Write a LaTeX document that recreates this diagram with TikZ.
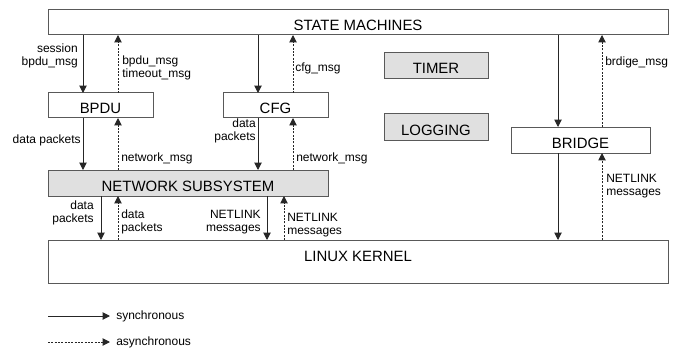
\documentclass[tikz,border=0pt]{standalone}
\usepackage{fontspec}
\setmainfont{Liberation Sans}
\usetikzlibrary{arrows.meta,calc}
\begin{document}
\begin{tikzpicture}[x=0.75pt,y=-0.75pt,
  box/.style={draw=black!65,line width=0.75pt,inner sep=0pt,outer sep=0pt,
    font=\fontsize{11.2}{13}\selectfont,text height=12pt,text depth=0pt},
  grey/.style={fill=black!12},
  lbl/.style={inner sep=0pt,font=\fontsize{9}{9.75}\selectfont},
  sync/.style={draw=black!85,line width=0.75pt,-{Triangle[length=5.6pt,width=5.6pt]}},
  async/.style={sync,dash pattern=on 1.5pt off 1pt}]
\useasboundingbox (0,0) rectangle (680,349);
% boxes
\node[box,minimum width=465pt,minimum height=18.75pt] (sm) at (358,22.5) {STATE MACHINES};
\node[box,minimum width=78.75pt,minimum height=18.75pt] (bpdu) at (100.5,105.5) {BPDU};
\node[box,minimum width=78.75pt,minimum height=18.75pt] (cfg) at (275.5,105.5) {CFG};
\node[box,grey,minimum width=78pt,minimum height=19.5pt] (timer) at (436,66) {TIMER};
\node[box,grey,minimum width=78pt,minimum height=19.5pt] (log) at (436,127) {LOGGING};
\node[box,minimum width=104.25pt,minimum height=19.5pt] (bridge) at (580.5,140) {BRIDGE};
\node[box,grey,minimum width=210pt,minimum height=19.5pt] (net) at (188,183) {NETWORK SUBSYSTEM};
\node[box,minimum width=465pt,minimum height=32.25pt,text height=8pt,text depth=8.3pt] (lk) at (358,261.5) {LINUX KERNEL};
% x positions
\coordinate (xa) at (83,0);
\coordinate (xb) at (118,0);
\coordinate (xc) at (258,0);
\coordinate (xd) at (293,0);
\coordinate (xe) at (558,0);
\coordinate (xf) at (602,0);
\coordinate (xg) at (101,0);
\coordinate (xh) at (118,0);
\coordinate (xi) at (267,0);
\coordinate (xj) at (284,0);
% connectors
\draw[sync] (sm.south -| xa) -- (bpdu.north -| xa);
\draw[async] (bpdu.north -| xb) -- (sm.south -| xb);
\draw[sync] (sm.south -| xc) -- (cfg.north -| xc);
\draw[async] (cfg.north -| xd) -- (sm.south -| xd);
\draw[sync] (bpdu.south -| xa) -- (net.north -| xa);
\draw[async] (net.north -| xb) -- (bpdu.south -| xb);
\draw[sync] (cfg.south -| xc) -- (net.north -| xc);
\draw[async] (net.north -| xd) -- (cfg.south -| xd);
\draw[sync] (sm.south -| xe) -- (bridge.north -| xe);
\draw[async] (bridge.north -| xf) -- (sm.south -| xf);
\draw[sync] (bridge.south -| xe) -- (lk.north -| xe);
\draw[async] (lk.north -| xf) -- (bridge.south -| xf);
\draw[sync] (net.south -| xg) -- (lk.north -| xg);
\draw[async] (lk.north -| xh) -- (net.south -| xh);
\draw[sync] (net.south -| xi) -- (lk.north -| xi);
\draw[async] (lk.north -| xj) -- (net.south -| xj);
% labels
\node[lbl,anchor=east,align=right] (t1) at (78,56) {session\\bpdu\_msg};
\node[lbl,anchor=west,align=left] (t2) at (122,68) {bpdu\_msg\\timeout\_msg};
\node[lbl,anchor=west] (t3) at (295,68) {cfg\_msg};
\node[lbl,anchor=west] (t4) at (605,62) {brdige\_msg};
\node[lbl,anchor=east] (t5) at (81,140) {data packets};
\node[lbl,anchor=west] (t6) at (121,158) {network\_msg};
\node[lbl,anchor=east,align=right] (t7) at (256,131) {data\\packets};
\node[lbl,anchor=west] (t8) at (296,158) {network\_msg};
\node[lbl,anchor=west,align=left] (t9) at (606,186) {NETLINK\\messages};
\node[lbl,anchor=east,align=right] (t10) at (94,213) {data\\packets};
\node[lbl,anchor=west,align=left] (t11) at (121,222) {data\\packets};
\node[lbl,anchor=east,align=right] (t12) at (261,222) {NETLINK\\messages};
\node[lbl,anchor=west,align=left] (t13) at (287,225) {NETLINK\\messages};
% legend
\coordinate (ls1) at (48,316);
\coordinate (le1) at (110,316);
\coordinate (ls2) at (48,342);
\coordinate (le2) at (110,342);
\draw[sync] (ls1) -- (le1);
\draw[async] (ls2) -- (le2);
\node[lbl,anchor=west] (lg1) at (116,316) {synchronous};
\node[lbl,anchor=west] (lg2) at (116,342) {asynchronous};
\end{tikzpicture}
\end{document}
